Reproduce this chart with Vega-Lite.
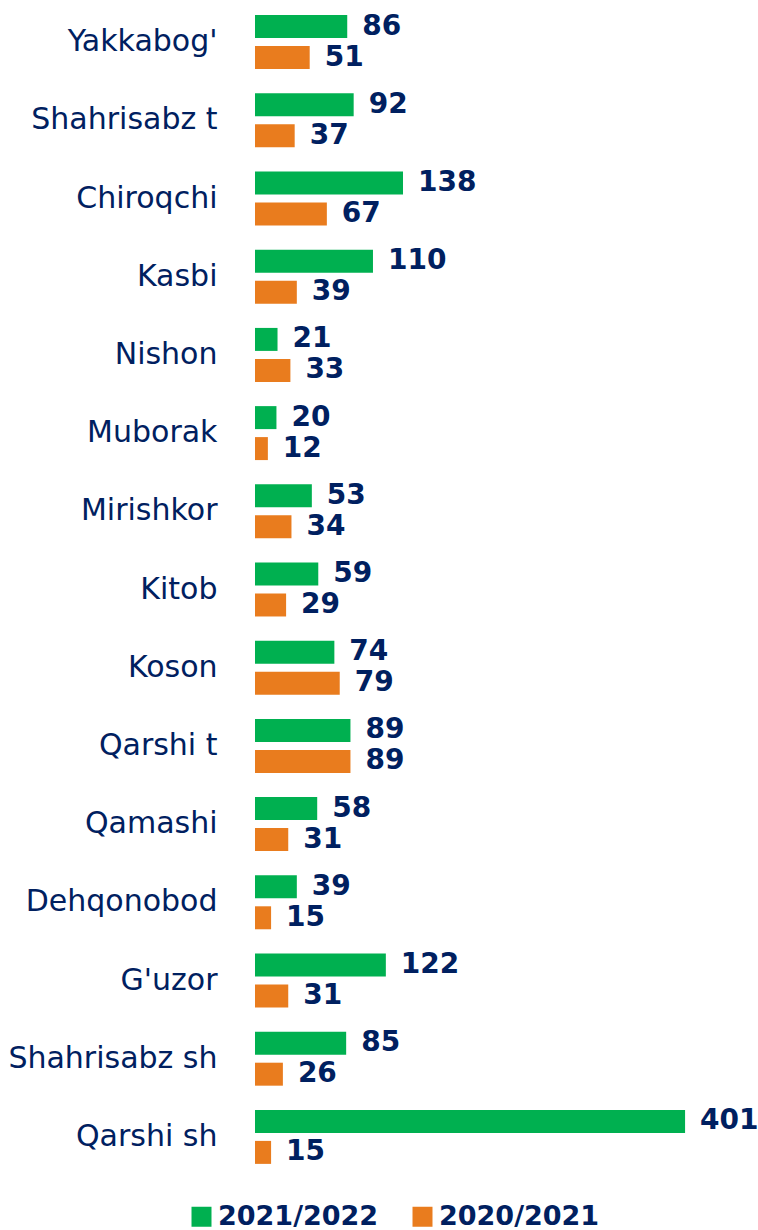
{
  "$schema": "https://vega.github.io/schema/vega-lite/v6.json",
  "autosize": {"type": "none"},
  "padding": {"left": 255, "top": 3, "right": 0, "bottom": 54},
  "width": 503,
  "height": 1173,
  "background": "white",
  "config": {"view": {"stroke": null}},
  "data": {"values": [
    {"district": "Yakkabog'", "year": "2021/2022", "value": 86},
    {"district": "Yakkabog'", "year": "2020/2021", "value": 51},
    {"district": "Shahrisabz t", "year": "2021/2022", "value": 92},
    {"district": "Shahrisabz t", "year": "2020/2021", "value": 37},
    {"district": "Chiroqchi", "year": "2021/2022", "value": 138},
    {"district": "Chiroqchi", "year": "2020/2021", "value": 67},
    {"district": "Kasbi", "year": "2021/2022", "value": 110},
    {"district": "Kasbi", "year": "2020/2021", "value": 39},
    {"district": "Nishon", "year": "2021/2022", "value": 21},
    {"district": "Nishon", "year": "2020/2021", "value": 33},
    {"district": "Muborak", "year": "2021/2022", "value": 20},
    {"district": "Muborak", "year": "2020/2021", "value": 12},
    {"district": "Mirishkor", "year": "2021/2022", "value": 53},
    {"district": "Mirishkor", "year": "2020/2021", "value": 34},
    {"district": "Kitob\u00a0", "year": "2021/2022", "value": 59},
    {"district": "Kitob\u00a0", "year": "2020/2021", "value": 29},
    {"district": "Koson", "year": "2021/2022", "value": 74},
    {"district": "Koson", "year": "2020/2021", "value": 79},
    {"district": "Qarshi t", "year": "2021/2022", "value": 89},
    {"district": "Qarshi t", "year": "2020/2021", "value": 89},
    {"district": "Qamashi", "year": "2021/2022", "value": 58},
    {"district": "Qamashi", "year": "2020/2021", "value": 31},
    {"district": "Dehqonobod", "year": "2021/2022", "value": 39},
    {"district": "Dehqonobod", "year": "2020/2021", "value": 15},
    {"district": "G'uzor", "year": "2021/2022", "value": 122},
    {"district": "G'uzor", "year": "2020/2021", "value": 31},
    {"district": "Shahrisabz sh", "year": "2021/2022", "value": 85},
    {"district": "Shahrisabz sh", "year": "2020/2021", "value": 26},
    {"district": "Qarshi sh\u00a0", "year": "2021/2022", "value": 401},
    {"district": "Qarshi sh\u00a0", "year": "2020/2021", "value": 15}
  ]},
  "encoding": {
    "y": {
      "field": "district", "type": "nominal", "sort": null,
      "scale": {"paddingInner": 0.31, "paddingOuter": 0.155},
      "axis": {
        "title": null, "domain": false, "ticks": false, "grid": false,
        "labelFont": "DejaVu Sans", "labelFontSize": 30, "labelColor": "#002060",
        "labelPadding": 38, "labelLimit": 0
      }
    },
    "yOffset": {
      "field": "year", "type": "nominal", "sort": ["2021/2022", "2020/2021"],
      "scale": {"paddingInner": 0.258, "paddingOuter": 0}
    },
    "x": {
      "field": "value", "type": "quantitative",
      "scale": {"domain": [0, 469]},
      "axis": null
    }
  },
  "layer": [
    {
      "mark": {"type": "bar", "clip": false},
      "encoding": {
        "color": {
          "field": "year", "type": "nominal",
          "scale": {"domain": ["2021/2022", "2020/2021"], "range": ["#00B050", "#E97C1E"]},
          "legend": {
            "title": null, "orient": "none", "direction": "horizontal",
            "legendX": -67, "legendY": 1200,
            "symbolType": "square", "symbolSize": 400, "symbolStrokeWidth": 0,
            "labelFont": "DejaVu Sans", "labelFontSize": 27, "labelFontWeight": "bold",
            "labelColor": "#002060", "labelOffset": 3, "columnPadding": 30, "labelLimit": 0
          }
        }
      }
    },
    {
      "mark": {"type": "text", "align": "left", "baseline": "middle", "dx": 15,
               "font": "DejaVu Sans", "fontWeight": "bold", "fontSize": 28, "color": "#002060"},
      "encoding": {"text": {"field": "value", "type": "quantitative"}}
    }
  ]
}
